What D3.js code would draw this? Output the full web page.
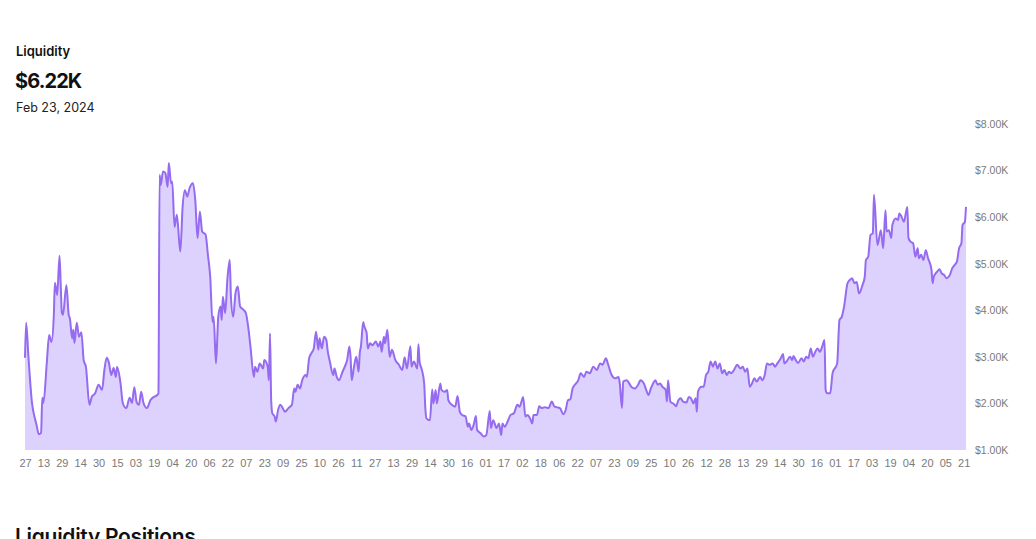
<!DOCTYPE html>
<html>
<head>
<meta charset="utf-8">
<script src="https://cdn.jsdelivr.net/npm/d3@7"></script>
<style>
  html, body { margin: 0; padding: 0; background: #ffffff; }
  svg { display: block; }
</style>
</head>
<body>
<svg id="chart" width="1036" height="539"></svg>
<script>
// ---- data ----
const startDate = Date.UTC(2021, 10, 27); // Nov 27, 2021 = day 0
const title = "Liquidity";
const currentValue = "$6.22K";
const currentDate = "Feb 23, 2024";
const sectionTitle = "Liquidity Positions";

const dayOffsets = [
  0,1,3,6,9,10,12,14,15,16,19,21,23,25,26,28,30,31,32,33,36,38,39,41,42,43,45,47,49,51,53,56,58,61,64,67,69,71,73,75,77,79,80,83,85,88,91,93,95,97,99,101,103,106,109,112,115,116,
  117,118,120,122,124,125,127,128,130,132,135,137,139,141,143,146,148,150,152,154,157,159,161,163,164,166,168,170,171,172,174,176,178,179,181,183,185,187,190,192,194,196,199,200,202,204,207,208,211,212,213,214,215,217,218,220,222,224,226,229,232,234,235,237,239,241,244,245,247,249,251,253,255,256,258,260,262,263,265,268,269,271,273,276,278,280,282,283,284,286,288,290,291,292,294,295,297,298,300,302,305,307,309,310,312,313,315,317,319,322,325,328,330,332,335,336,338,341,342,343,345,347,348,349,352,354,355,357,358,361,362,365,367,368,371,374,376,378,380,383,385,386,388,390,392,393,396,399,401,404,405,407,410,412,414,415,417,420,422,425,428,430,432,433,435,437,439,441,442,445,447,449,452,455,458,460,462,465,468,470,472,474,476,478,481,483,486,488,491,494,497,500,502,505,507,510,513,516,517,519,520,523,527,530,533,535,538,540,542,544,546,548,550,552,554,557,558,559,561,564,566,568,570,572,575,577,579,581,583,584,585,588,590,592,594,596,598,600,602,604,606,608,610,612,614,617,619,622,624,626,628,630,632,634,636,639,641,643,645,647,650,652,654,657,659,660,662,665,667,668,670,672,675,677,679,681,683,685,687,689,691,693,695,696,697,700,702,706,708,710,712,715,717,719,721,723,725,728,730,731,733,735,737,738,741,743,744,746,748,749,751,753,754,757,759,760,762,764,767,768,770,772,774,776,777,779,781,783,785,788,789,790,793,795,797,799,801,804,806,808,810,812,814,815,817,818
];

const liquidityK = [
  2.98,3.73,3.00,2.03,1.64,1.54,1.34,1.37,2.12,2.01,2.89,3.47,3.32,3.86,4.59,4.33,5.17,4.59,3.96,3.90,4.54,3.90,3.83,3.40,3.58,3.30,3.73,3.43,3.53,2.93,2.78,1.97,2.14,2.22,2.40,2.29,2.72,2.98,2.87,2.61,2.76,2.57,2.78,2.44,2.01,1.90,2.12,2.01,2.35,2.03,1.97,2.25,2.01,1.90,2.07,2.14,2.18,2.22,
  6.91,6.69,6.98,6.95,6.65,7.16,6.73,6.76,5.79,6.05,5.26,6.22,6.58,6.44,6.62,6.73,6.37,5.55,6.12,5.69,5.62,5.19,4.72,3.75,3.86,2.86,3.86,4.08,3.79,4.29,3.94,4.69,5.08,4.29,3.86,4.37,4.51,4.08,4.01,3.94,3.65,3.22,2.57,2.79,2.68,2.86,2.75,2.93,2.79,2.50,3.50,2.07,1.79,1.72,1.61,1.86,1.97,1.90,1.82,1.90,1.97,2.32,2.25,2.40,2.32,2.50,2.61,2.57,2.97,3.08,3.18,3.54,3.15,3.40,3.18,3.43,3.36,3.15,2.90,2.61,2.75,2.57,2.50,2.68,2.79,2.93,3.22,3.00,2.50,2.79,3.00,2.68,3.08,3.22,3.75,3.65,3.51,3.18,3.29,3.25,3.33,3.22,3.33,3.11,3.43,3.29,3.58,3.00,3.15,2.93,2.83,2.72,2.99,2.75,3.23,2.79,2.90,2.75,3.27,2.90,2.72,2.43,1.90,1.68,1.64,2.30,2.00,2.29,2.00,2.43,2.29,2.25,2.29,2.07,1.97,1.93,2.16,1.82,1.75,1.72,1.50,1.57,1.43,1.54,1.73,1.43,1.36,1.29,1.32,1.84,1.47,1.64,1.47,1.57,1.32,1.57,1.50,1.64,1.75,1.79,1.97,1.93,2.07,2.14,1.72,1.75,1.68,1.57,1.75,1.75,1.94,1.90,1.92,1.90,2.04,1.94,1.92,1.90,1.77,1.86,2.07,2.09,2.32,2.40,2.50,2.65,2.57,2.68,2.65,2.79,2.72,2.86,2.83,2.97,2.83,2.61,2.54,2.57,2.43,1.90,2.47,2.50,2.36,2.32,2.40,2.50,2.43,2.29,2.18,2.32,2.43,2.50,2.40,2.43,2.36,2.29,2.04,2.50,2.04,1.99,1.94,2.07,2.11,2.04,2.02,2.14,2.11,2.00,2.11,1.82,2.25,2.36,2.36,2.61,2.68,2.90,2.79,2.90,2.75,2.86,2.65,2.72,2.61,2.68,2.65,2.75,2.83,2.75,2.79,2.68,2.75,2.36,2.43,2.54,2.47,2.57,2.50,2.61,2.86,2.83,2.86,2.79,2.86,2.97,3.06,2.86,2.90,3.00,2.93,3.02,2.93,2.87,2.97,2.90,3.00,2.97,3.18,3.00,3.11,3.18,3.11,3.22,3.36,2.29,2.22,2.22,2.65,2.86,3.79,3.86,4.08,4.58,4.65,4.69,4.58,4.61,4.36,4.54,4.72,5.08,5.15,5.62,5.65,6.48,5.40,5.62,5.72,5.33,6.15,5.69,5.72,5.55,5.83,5.97,5.94,6.08,6.01,5.90,6.22,5.55,5.47,5.44,5.15,5.33,5.12,5.19,5.08,5.29,5.12,4.87,4.58,4.72,4.83,4.88,4.79,4.76,4.69,4.76,4.90,4.97,5.04,5.33,5.44,5.83,5.90,6.22
];

const tickLabels = ["27","13","29","14","30","15","03","19","04","20","06","22","07","23","09","25","10","26","11","27","13","29","14","30","16","01","17","02","18","06","22","07","23","09","25","10","26","12","28","13","29","14","30","16","01","17","03","19","04","20","05","21"];
const tickStepDays = 16;
const yTickValues = [1, 2, 3, 4, 5, 6, 7, 8];

// ---- build ----
const data = dayOffsets.map((d, i) => ({ date: d3.utcDay.offset(new Date(startDate), d), v: liquidityK[i] }));
const endDate = data[data.length - 1].date;

const svg = d3.select("#chart");
const x = d3.scaleUtc().domain([new Date(startDate), endDate]).range([25, 966]);
const y = d3.scaleLinear().domain([1, 8]).range([450, 124]);

const area = d3.area().x(d => x(d.date)).y0(y(1)).y1(d => y(d.v)).curve(d3.curveMonotoneX);
const line = d3.line().x(d => x(d.date)).y(d => y(d.v)).curve(d3.curveMonotoneX);

svg.append("path").datum(data).attr("d", area).attr("fill", "#ddd2fd");
svg.append("path").datum(data).attr("d", line)
  .attr("fill", "none").attr("stroke", "#956bef").attr("stroke-width", 2)
  .attr("stroke-linejoin", "round");

// x axis (labels only)
const tickDates = tickLabels.map((_, i) => d3.utcDay.offset(new Date(startDate), i * tickStepDays));
const xAxis = d3.axisBottom(x).tickValues(tickDates).tickSize(0).tickPadding(0)
  .tickFormat((d, i) => tickLabels[i]);
const gx = svg.append("g").attr("transform", "translate(0,459)").call(xAxis);
gx.select(".domain").remove();
gx.selectAll("text").attr("font-family", "Liberation Sans, Arial, sans-serif")
  .attr("font-size", 11).attr("fill", "#7a7a7a");

// y axis (labels only, right side)
const yAxis = d3.axisRight(y).tickValues(yTickValues).tickSize(0).tickPadding(0)
  .tickFormat(v => "$" + v.toFixed(2) + "K");
const gy = svg.append("g").attr("transform", "translate(975,0)").call(yAxis);
gy.select(".domain").remove();
gy.selectAll("text").attr("font-family", "Liberation Sans, Arial, sans-serif")
  .attr("font-size", 10.5).attr("fill", "#7a7a7a");

// header text
const font = "Inter, 'Noto Sans', sans-serif";
svg.append("text").attr("x", 16).attr("y", 56).text(title)
  .attr("font-family", font).attr("font-size", 13).attr("font-weight", 600).attr("fill", "#111");
svg.append("text").attr("x", 15).attr("y", 88).text(currentValue)
  .attr("font-family", font).attr("font-size", 20).attr("font-weight", 700).attr("fill", "#111")
  .attr("letter-spacing", "-0.9");
svg.append("text").attr("x", 16).attr("y", 112).text(currentDate)
  .attr("font-family", font).attr("font-size", 12.5).attr("font-weight", 400).attr("fill", "#222");
svg.append("text").attr("x", 15).attr("y", 544).text(sectionTitle)
  .attr("font-family", font).attr("font-size", 21).attr("font-weight", 600).attr("fill", "#111")
  .attr("letter-spacing", "-0.3");
</script>
</body>
</html>
